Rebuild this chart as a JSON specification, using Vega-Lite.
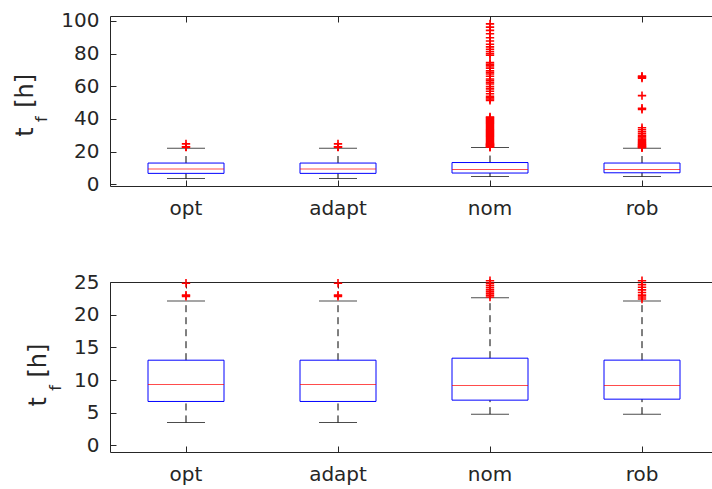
{
  "$schema": "https://vega.github.io/schema/vega-lite/v6.json",
  "background": "white",
  "padding": {"left": 13, "right": 0, "top": 10, "bottom": 4},
  "datasets": {
    "stats": [
      {"cat": "opt", "lower": 3.52, "q1": 6.73, "median": 9.33, "q3": 13.04, "upper": 22.1},
      {"cat": "adapt", "lower": 3.52, "q1": 6.73, "median": 9.33, "q3": 13.04, "upper": 22.1},
      {"cat": "nom", "lower": 4.79, "q1": 6.93, "median": 9.17, "q3": 13.35, "upper": 22.6},
      {"cat": "rob", "lower": 4.79, "q1": 7.08, "median": 9.17, "q3": 13.05, "upper": 22.1}
    ],
    "outliers": [
      {"cat": "opt", "t": 22.8}, {"cat": "opt", "t": 23.0}, {"cat": "opt", "t": 24.8},
      {"cat": "adapt", "t": 22.8}, {"cat": "adapt", "t": 23.0}, {"cat": "adapt", "t": 24.8},
      {"cat": "nom", "t": 98.2}, {"cat": "nom", "t": 96.2}, {"cat": "nom", "t": 94.2}, {"cat": "nom", "t": 92.1},
      {"cat": "nom", "t": 89.7}, {"cat": "nom", "t": 87.7}, {"cat": "nom", "t": 85.7}, {"cat": "nom", "t": 84.1},
      {"cat": "nom", "t": 82.7}, {"cat": "nom", "t": 81.3}, {"cat": "nom", "t": 80.0}, {"cat": "nom", "t": 79.0},
      {"cat": "nom", "t": 74.5}, {"cat": "nom", "t": 73.5}, {"cat": "nom", "t": 72.5}, {"cat": "nom", "t": 71.1},
      {"cat": "nom", "t": 69.5}, {"cat": "nom", "t": 68.5}, {"cat": "nom", "t": 67.5}, {"cat": "nom", "t": 66.1},
      {"cat": "nom", "t": 64.5}, {"cat": "nom", "t": 63.5}, {"cat": "nom", "t": 62.4}, {"cat": "nom", "t": 61.4},
      {"cat": "nom", "t": 59.8}, {"cat": "nom", "t": 58.4}, {"cat": "nom", "t": 57.0}, {"cat": "nom", "t": 55.4},
      {"cat": "nom", "t": 53.8}, {"cat": "nom", "t": 53.0}, {"cat": "nom", "t": 52.2}, {"cat": "nom", "t": 51.4},
      {"cat": "nom", "t": 41.2}, {"cat": "nom", "t": 40.8}, {"cat": "nom", "t": 40.2}, {"cat": "nom", "t": 39.6},
      {"cat": "nom", "t": 39.0}, {"cat": "nom", "t": 38.4}, {"cat": "nom", "t": 37.8}, {"cat": "nom", "t": 37.2},
      {"cat": "nom", "t": 36.6}, {"cat": "nom", "t": 36.0}, {"cat": "nom", "t": 35.4}, {"cat": "nom", "t": 34.8},
      {"cat": "nom", "t": 34.2}, {"cat": "nom", "t": 33.6}, {"cat": "nom", "t": 33.0}, {"cat": "nom", "t": 32.4},
      {"cat": "nom", "t": 31.8}, {"cat": "nom", "t": 31.2}, {"cat": "nom", "t": 30.6}, {"cat": "nom", "t": 30.0},
      {"cat": "nom", "t": 29.4}, {"cat": "nom", "t": 28.8}, {"cat": "nom", "t": 28.2}, {"cat": "nom", "t": 27.6},
      {"cat": "nom", "t": 27.0}, {"cat": "nom", "t": 26.4}, {"cat": "nom", "t": 25.8}, {"cat": "nom", "t": 25.2},
      {"cat": "nom", "t": 24.8}, {"cat": "nom", "t": 24.5}, {"cat": "nom", "t": 24.2}, {"cat": "nom", "t": 23.9},
      {"cat": "nom", "t": 23.6}, {"cat": "nom", "t": 23.3}, {"cat": "nom", "t": 23.0}, {"cat": "nom", "t": 22.7},
      {"cat": "rob", "t": 66.2}, {"cat": "rob", "t": 65.6}, {"cat": "rob", "t": 65.0}, {"cat": "rob", "t": 54.3},
      {"cat": "rob", "t": 46.6}, {"cat": "rob", "t": 45.9}, {"cat": "rob", "t": 34.6}, {"cat": "rob", "t": 33.4},
      {"cat": "rob", "t": 32.2}, {"cat": "rob", "t": 31.1}, {"cat": "rob", "t": 30.0}, {"cat": "rob", "t": 29.2},
      {"cat": "rob", "t": 28.4}, {"cat": "rob", "t": 27.6}, {"cat": "rob", "t": 27.0}, {"cat": "rob", "t": 26.4},
      {"cat": "rob", "t": 25.8}, {"cat": "rob", "t": 25.2}, {"cat": "rob", "t": 24.6}, {"cat": "rob", "t": 24.2},
      {"cat": "rob", "t": 23.8}, {"cat": "rob", "t": 23.4}, {"cat": "rob", "t": 23.0}, {"cat": "rob", "t": 22.7},
      {"cat": "rob", "t": 22.4}
    ]
  },
  "spacing": 52,
  "vconcat": [
    {
      "width": 603,
      "height": 170,
      "encoding": {
        "x": {"field": "cat", "type": "nominal", "sort": ["opt", "adapt", "nom", "rob"],
              "scale": {"range": [0, 608], "paddingInner": 0, "paddingOuter": 0}, "axis": null}
      },
      "layer": [
        {"data": {"name": "stats"},
         "mark": {"type": "rule", "color": "#000000", "strokeWidth": 1, "strokeDash": [7, 5]},
         "encoding": {"y": {"field": "lower", "type": "quantitative", "scale": {"domain": [-1, 103], "nice": false, "zero": false}, "axis": null},
                      "y2": {"field": "q1"}}},
        {"data": {"name": "stats"},
         "mark": {"type": "rule", "color": "#000000", "strokeWidth": 1, "strokeDash": [7, 5]},
         "encoding": {"y": {"field": "q3", "type": "quantitative", "scale": {"domain": [-1, 103], "nice": false, "zero": false}, "axis": null},
                      "y2": {"field": "upper"}}},
        {"data": {"name": "stats"},
         "mark": {"type": "tick", "color": "#000000", "size": 38, "thickness": 1},
         "encoding": {"y": {"field": "lower", "type": "quantitative", "scale": {"domain": [-1, 103], "nice": false, "zero": false}, "axis": null}}},
        {"data": {"name": "stats"},
         "mark": {"type": "tick", "color": "#000000", "size": 38, "thickness": 1},
         "encoding": {"y": {"field": "upper", "type": "quantitative", "scale": {"domain": [-1, 103], "nice": false, "zero": false}, "axis": null}}},
        {"data": {"name": "stats"},
         "mark": {"type": "bar", "filled": false, "color": "#0000ff", "strokeWidth": 1, "width": {"band": 0.5}},
         "encoding": {
           "x": {"field": "cat", "type": "nominal", "sort": ["opt", "adapt", "nom", "rob"],
                 "scale": {"range": [0, 608], "paddingInner": 0, "paddingOuter": 0},
                 "axis": {"orient": "bottom", "title": null, "labelAngle": 0, "domain": false, "tickSize": -6, "labelPadding": 18.5,
                          "labelFont": "DejaVu Sans", "labelFontSize": 20, "labelColor": "#262626", "tickColor": "#262626"}},
           "y": {"field": "q1", "type": "quantitative", "scale": {"domain": [-1, 103], "nice": false, "zero": false},
                 "axis": {"orient": "left", "title": "t\u2002\u00a0[h]\u00a0\u200b", "values": [0, 20, 40, 60, 80, 100], "grid": false, "domain": false,
                          "tickSize": -6, "labelPadding": 17, "labelFont": "DejaVu Sans", "labelFontSize": 20,
                          "labelColor": "#262626", "tickColor": "#262626", "titleFont": "DejaVu Sans", "titleFontSize": 24,
                          "titleFontWeight": "normal", "titleColor": "#262626", "titlePadding": 23}},
           "y2": {"field": "q3"}}},
        {"data": {"name": "stats"},
         "mark": {"type": "tick", "color": "#ff0000", "size": 76, "thickness": 1},
         "encoding": {"y": {"field": "median", "type": "quantitative", "scale": {"domain": [-1, 103], "nice": false, "zero": false}, "axis": null}}},
        {"data": {"name": "outliers"},
         "mark": {"type": "point", "shape": "M-1,0L1,0M0,-1L0,1", "filled": false, "color": "#ff0000", "size": 70, "strokeWidth": 1.6, "opacity": 1},
         "encoding": {
           "x": {"field": "cat", "type": "nominal", "sort": ["opt", "adapt", "nom", "rob"],
                 "scale": {"range": [0, 608], "paddingInner": 0, "paddingOuter": 0},
                 "axis": {"orient": "top", "title": null, "labels": false, "domain": false, "tickSize": -6, "tickColor": "#262626"}},
           "y": {"field": "t", "type": "quantitative", "scale": {"domain": [-1, 103], "nice": false, "zero": false},
                 "axis": {"orient": "left", "title": "f\u00a0\u00a0\u00a0\u00a0\u00a0\u00a0\u00a0\u200b", "labels": false, "ticks": false, "domain": false, "grid": false,
                          "minExtent": 0, "titleFont": "DejaVu Sans", "titleFontSize": 16, "titleFontWeight": "normal",
                          "titleColor": "#262626", "titlePadding": 61}}}}
      ],
      "resolve": {"axis": {"x": "independent", "y": "independent"}}
    },
    {
      "width": 603,
      "height": 170,
      "encoding": {
        "x": {"field": "cat", "type": "nominal", "sort": ["opt", "adapt", "nom", "rob"],
              "scale": {"range": [0, 608], "paddingInner": 0, "paddingOuter": 0}, "axis": null}
      },
      "layer": [
        {"data": {"name": "stats"},
         "mark": {"type": "rule", "color": "#000000", "strokeWidth": 1, "strokeDash": [7, 5]},
         "encoding": {"y": {"field": "lower", "type": "quantitative", "scale": {"domain": [-1, 25], "nice": false, "zero": false}, "axis": null},
                      "y2": {"field": "q1"}}},
        {"data": {"name": "stats"},
         "mark": {"type": "rule", "color": "#000000", "strokeWidth": 1, "strokeDash": [7, 5]},
         "encoding": {"y": {"field": "q3", "type": "quantitative", "scale": {"domain": [-1, 25], "nice": false, "zero": false}, "axis": null},
                      "y2": {"field": "upper"}}},
        {"data": {"name": "stats"},
         "mark": {"type": "tick", "color": "#000000", "size": 38, "thickness": 1},
         "encoding": {"y": {"field": "lower", "type": "quantitative", "scale": {"domain": [-1, 25], "nice": false, "zero": false}, "axis": null}}},
        {"data": {"name": "stats"},
         "mark": {"type": "tick", "color": "#000000", "size": 38, "thickness": 1},
         "encoding": {"y": {"field": "upper", "type": "quantitative", "scale": {"domain": [-1, 25], "nice": false, "zero": false}, "axis": null}}},
        {"data": {"name": "stats"},
         "mark": {"type": "bar", "filled": false, "color": "#0000ff", "strokeWidth": 1, "width": {"band": 0.5}},
         "encoding": {
           "x": {"field": "cat", "type": "nominal", "sort": ["opt", "adapt", "nom", "rob"],
                 "scale": {"range": [0, 608], "paddingInner": 0, "paddingOuter": 0},
                 "axis": {"orient": "bottom", "title": null, "labelAngle": 0, "domain": false, "tickSize": -6, "labelPadding": 18.5,
                          "labelFont": "DejaVu Sans", "labelFontSize": 20, "labelColor": "#262626", "tickColor": "#262626"}},
           "y": {"field": "q1", "type": "quantitative", "scale": {"domain": [-1, 25], "nice": false, "zero": false},
                 "axis": {"orient": "left", "title": "t\u2002\u00a0[h]\u00a0\u00a0\u200b", "values": [0, 5, 10, 15, 20, 25], "grid": false, "domain": false,
                          "tickSize": -6, "labelPadding": 17, "labelFont": "DejaVu Sans", "labelFontSize": 20,
                          "labelColor": "#262626", "tickColor": "#262626", "titleFont": "DejaVu Sans", "titleFontSize": 24,
                          "titleFontWeight": "normal", "titleColor": "#262626", "titlePadding": 23}},
           "y2": {"field": "q3"}}},
        {"data": {"name": "stats"},
         "mark": {"type": "tick", "color": "#ff0000", "size": 76, "thickness": 1},
         "encoding": {"y": {"field": "median", "type": "quantitative", "scale": {"domain": [-1, 25], "nice": false, "zero": false}, "axis": null}}},
        {"data": {"name": "outliers"},
         "transform": [{"filter": "datum.t <= 25.3"}],
         "mark": {"type": "point", "shape": "M-1,0L1,0M0,-1L0,1", "filled": false, "color": "#ff0000", "size": 70, "strokeWidth": 1.6, "opacity": 1},
         "encoding": {
           "x": {"field": "cat", "type": "nominal", "sort": ["opt", "adapt", "nom", "rob"],
                 "scale": {"range": [0, 608], "paddingInner": 0, "paddingOuter": 0},
                 "axis": {"orient": "top", "title": null, "labels": false, "domain": false, "tickSize": -6, "tickColor": "#262626"}},
           "y": {"field": "t", "type": "quantitative", "scale": {"domain": [-1, 25], "nice": false, "zero": false},
                 "axis": {"orient": "left", "title": "f\u00a0\u00a0\u00a0\u00a0\u00a0\u00a0\u00a0\u00a0\u200b", "labels": false, "ticks": false, "domain": false, "grid": false,
                          "minExtent": 0, "titleFont": "DejaVu Sans", "titleFontSize": 16, "titleFontWeight": "normal",
                          "titleColor": "#262626", "titlePadding": 47}}}}
      ],
      "resolve": {"axis": {"x": "independent", "y": "independent"}}
    }
  ],
  "config": {
    "view": {"stroke": "#262626", "strokeWidth": 1}
  }
}
